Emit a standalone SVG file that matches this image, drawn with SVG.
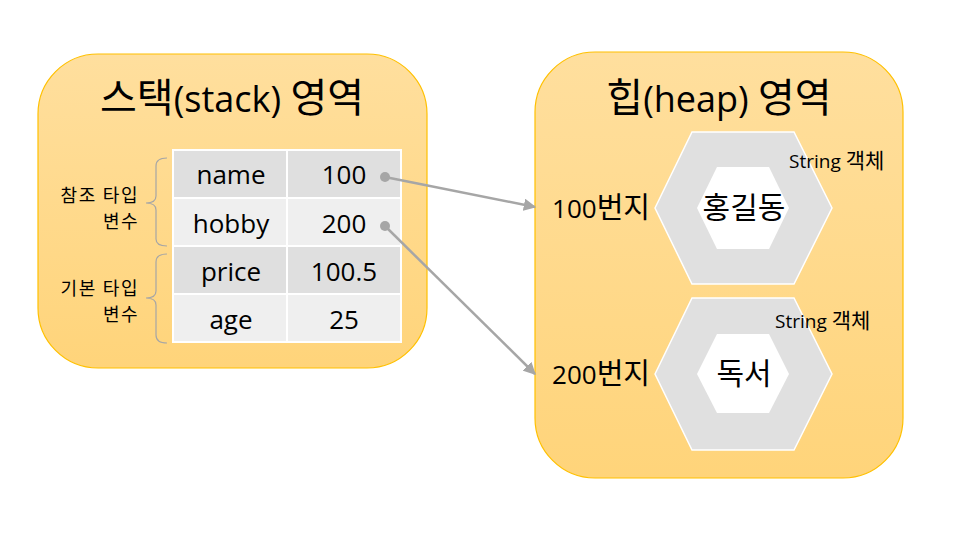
<svg xmlns="http://www.w3.org/2000/svg" width="964" height="540" viewBox="0 0 964 540">
<defs>
<linearGradient id="g" x1="0" y1="0" x2="0" y2="1">
<stop offset="0" stop-color="#FFDF9E"/>
<stop offset="1" stop-color="#FFD47A"/>
</linearGradient>
<marker id="ah" viewBox="0 0 10 10" refX="9" refY="5" markerWidth="5" markerHeight="5" orient="auto" markerUnits="strokeWidth">
<path d="M0,0 L10,5 L0,10 z" fill="#A6A6A6"/>
</marker>
<style>
text{font-family:"Open Sans","Noto Sans CJK KR",sans-serif;fill:#000}
.area{fill:url(#g);stroke:#FFC000;stroke-width:1.2}
.title{font-size:36px;text-anchor:middle}
.title .k{font-size:40px}
.cell{font-size:26px;text-anchor:middle}
.c1{fill:#DFDFDF;stroke:#fff;stroke-width:2}
.c2{fill:#EFEFEF;stroke:#fff;stroke-width:2}
.lbl{font-size:18px;letter-spacing:1.5px;text-anchor:end}
.br{fill:none;stroke:#A6A6A6;stroke-width:1.2}
.hexo{fill:#E0E0E0;stroke:#fff;stroke-width:1.5}
.hexi{fill:#fff}
.big{font-size:26px}
.big .k{font-size:29px}
.obj{font-size:30px;text-anchor:middle}
.small{font-size:19px}
.small .k{font-size:21px}
.conn{stroke:#A6A6A6;stroke-width:2.5;fill:none}
</style>
</defs>
<rect width="964" height="540" fill="#fff"/>
<g id="stack">
<rect class="area" x="38" y="54" width="389" height="314" rx="60" ry="60"/>
<text class="title" x="232" y="112"><tspan class="k">스택</tspan>(stack) <tspan class="k">영역</tspan></text>
</g>
<g id="heap">
<rect class="area" x="535" y="52" width="368" height="426" rx="60" ry="60"/>
<text class="title" x="719" y="112"><tspan class="k">힙</tspan>(heap) <tspan class="k">영역</tspan></text>
</g>
<g id="table">
<rect class="c1" x="173" y="150" width="114" height="48"/>
<rect class="c1" x="287" y="150" width="114" height="48"/>
<rect class="c2" x="173" y="198" width="114" height="48"/>
<rect class="c2" x="287" y="198" width="114" height="48"/>
<rect class="c1" x="173" y="246" width="114" height="48"/>
<rect class="c1" x="287" y="246" width="114" height="48"/>
<rect class="c2" x="173" y="294" width="114" height="48"/>
<rect class="c2" x="287" y="294" width="114" height="48"/>
<text class="cell" x="231" y="184">name</text>
<text class="cell" x="344" y="184">100</text>
<text class="cell" x="231" y="233">hobby</text>
<text class="cell" x="344" y="233">200</text>
<text class="cell" x="231" y="281">price</text>
<text class="cell" x="344" y="281">100.5</text>
<text class="cell" x="231" y="329">age</text>
<text class="cell" x="344" y="329">25</text>
</g>
<g id="ref-label">
<path class="br" d="M167,158 Q156,158 156,166 L156,196 Q156,203 146,203 Q156,203 156,210 L156,239 Q156,246 167,246"/>
<text class="lbl" x="139" y="202">참조 타입</text>
<text class="lbl" x="139" y="228">변수</text>
</g>
<g id="prim-label">
<path class="br" d="M167,254 Q156,254 156,262 L156,291 Q156,298 146,298 Q156,298 156,305 L156,335 Q156,343 167,343"/>
<text class="lbl" x="139" y="295">기본 타입</text>
<text class="lbl" x="139" y="321">변수</text>
</g>
<g id="obj1">
<polygon class="hexo" points="655,208 692,132 794,132 832,208 794,284 692,284"/>
<polygon class="hexi" points="697,208 717,167 769,167 789,208 769,249 717,249"/>
<text class="obj" x="744" y="218">홍길동</text>
<text class="big" x="650" y="218" text-anchor="end">100<tspan class="k">번지</tspan></text>
<text class="small" x="789" y="168">String <tspan class="k">객체</tspan></text>
</g>
<g id="obj2">
<polygon class="hexo" points="655,374 692,298 794,298 832,374 794,450 692,450"/>
<polygon class="hexi" points="697,374 717,334 769,334 789,374 769,413 717,413"/>
<text class="obj" x="744" y="384">독서</text>
<text class="big" x="650" y="384" text-anchor="end">200<tspan class="k">번지</tspan></text>
<text class="small" x="775" y="328">String <tspan class="k">객체</tspan></text>
</g>
<g id="connectors">
<circle cx="385" cy="177" r="5" fill="#A6A6A6"/>
<circle cx="385" cy="226" r="5" fill="#A6A6A6"/>
<line class="conn" x1="385" y1="177" x2="535" y2="207" marker-end="url(#ah)"/>
<line class="conn" x1="385" y1="226" x2="535" y2="374" marker-end="url(#ah)"/>
</g>
</svg>
